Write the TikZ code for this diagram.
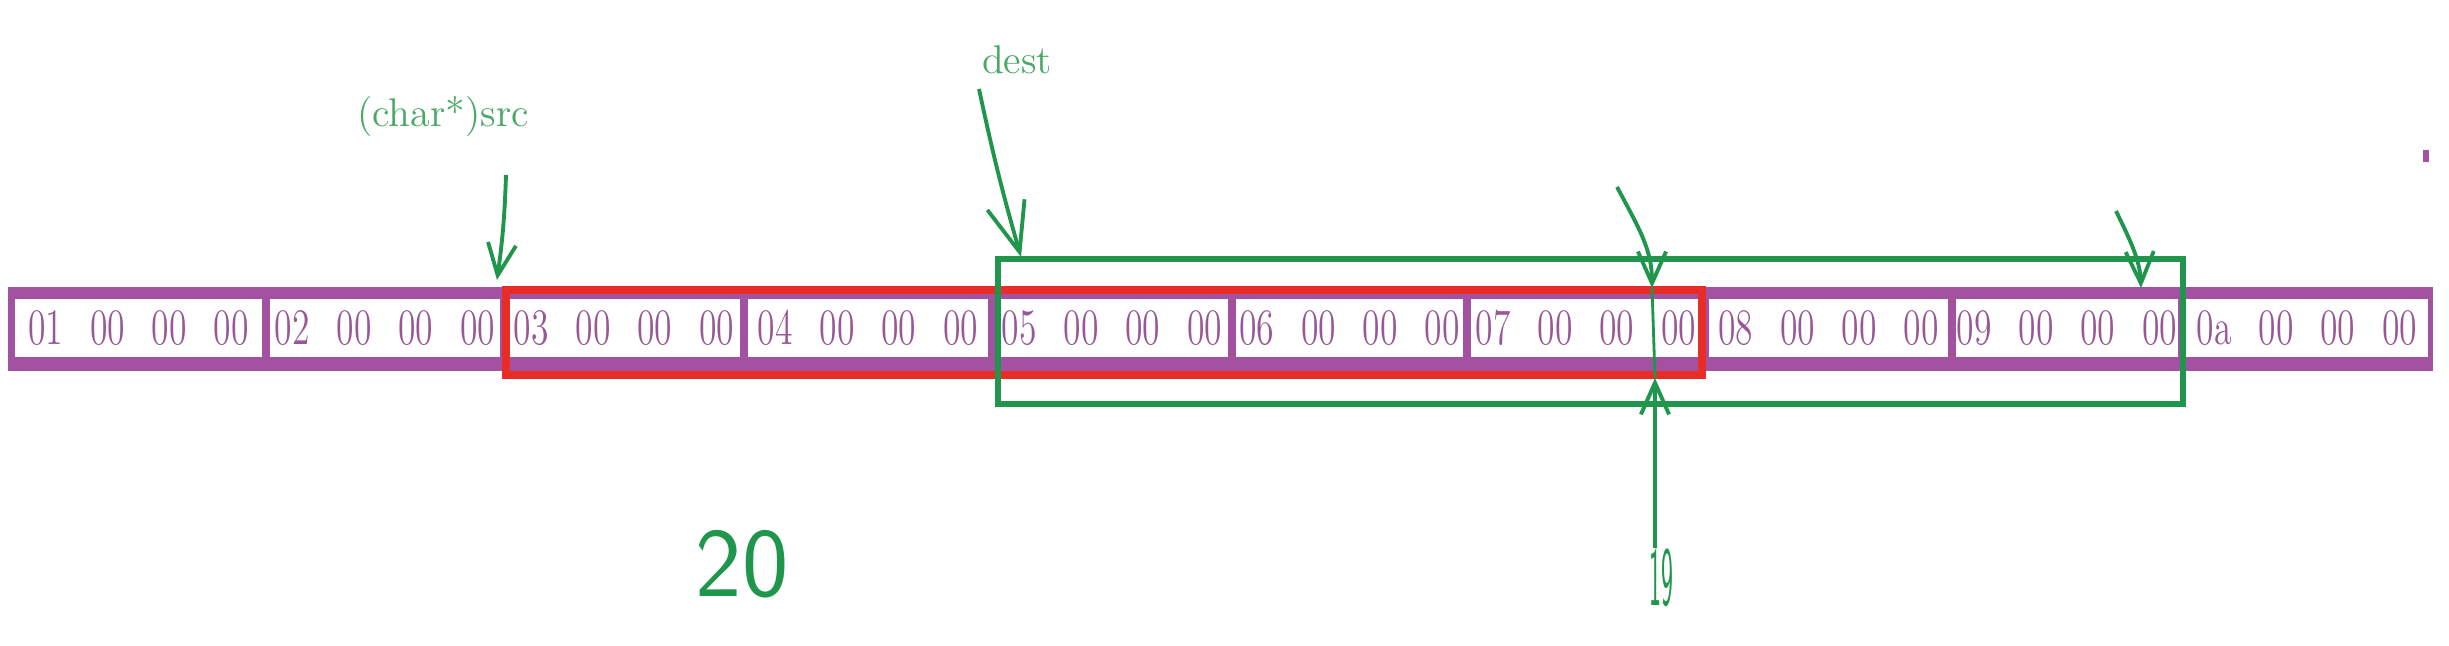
\documentclass[tikz,border=0pt]{standalone}
\usepackage{graphicx}
\usetikzlibrary{arrows.meta}
\definecolor{bandpurple}{RGB}{162,82,160}
\definecolor{textpurple}{RGB}{150,88,150}
\definecolor{boxred}{RGB}{232,44,40}
\definecolor{markgreen}{RGB}{32,150,76}
\definecolor{lblgreen}{RGB}{72,168,100}
\tikzset{
cell/.style={fill=white,inner sep=0pt,minimum height=0.58cm,text=textpurple,font=\fontsize{14.5}{16}\selectfont},
ptr/.style={draw=markgreen,line width=1.1pt,-{Straight Barb[length=9pt,width=8pt]}},
lbl/.style={text=lblgreen,inner sep=0pt,font=\fontsize{11.4}{13}\selectfont},
hand/.style={text=markgreen,inner sep=0pt,font=\sffamily\fontsize{28}{30}\selectfont}
}
\newcommand{\cellbytes}[1]{\scalebox{0.7}[1]{#1\hspace{.75em}00\hspace{.75em}00\hspace{.75em}00}}

\begin{document}
\begin{tikzpicture}[x=0.01cm,y=-0.01cm]
\useasboundingbox (0,0) rectangle (2449,646);
\fill[bandpurple] (8,287) rectangle (2433,371);
\foreach \l/\r/\b in {11/266/01,266/504/02,504/744/03,744/992/04,992/1232/05,1232/1467/06,1467/1705/07,1705/1952/08,1952/2182/09,2182/2432/0a}
  \node[cell,minimum width={(\r-\l-8)*0.01cm}] (c\b) at ({(\l+\r)/2},328) {\cellbytes{\b}};
\draw[boxred,line width=0.08cm] (506,290) rectangle (1702,375);
\draw[markgreen,line width=0.06cm] (998,259) rectangle (2183,404);
\fill[bandpurple] (2423,150) rectangle (2429,162);

\node[lbl] (src) at (443,117) {(char*)src};
\node[lbl] (dest) at (1017,60) {dest};
\node[hand] (n20) at (742,564) {20};
\node[hand,font=\sffamily\fontsize{24}{26}\selectfont] (n19) at (1661,578) {\scalebox{0.3}[1]{19}};

\coordinate (srcT) at (506,175);
\coordinate (srcH) at (497,280);
\coordinate (destT) at (979,89);
\coordinate (destH) at (1021,257);
\coordinate (endT) at (1617,187);
\coordinate (endH) at (1652,288);
\coordinate (endB) at (1655,378);
\coordinate (lastT) at (2116,211);
\coordinate (lastH) at (2141,288);

\draw[ptr] (srcT) to[bend left=3] (srcH);
\draw[ptr,-{Straight Barb[length=14pt,width=11pt]}] (destT) to[bend right=2] (destH);
\draw[ptr] (endT) .. controls (1640,230) and (1652,250) .. (endH);
\draw[markgreen,line width=0.8pt] (endH) -- (endB);
\draw[ptr] (n19.north -| endB) -- (endB);
\draw[ptr] (lastT) .. controls (2130,240) and (2140,260) .. (lastH);
\end{tikzpicture}
\end{document}
